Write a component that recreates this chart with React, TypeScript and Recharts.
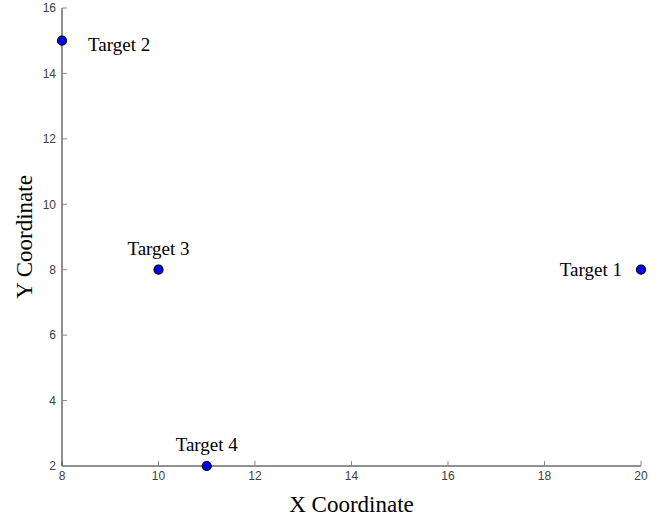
import { ScatterChart, Scatter, XAxis, YAxis, LabelList, Label } from 'recharts';

const targetNames = ['Target 1', 'Target 2', 'Target 3', 'Target 4'];
const targetX = [20, 8, 10, 11];
const targetY = [8, 15, 8, 2];
const xTicks = [8, 10, 12, 14, 16, 18, 20];
const yTicks = [2, 4, 6, 8, 10, 12, 14, 16];

// where each name sits relative to its dot
const labelSide: Record<string, string> = {
  'Target 1': 'left',
  'Target 2': 'right',
  'Target 3': 'top',
  'Target 4': 'top',
};

const data = targetNames.map((name, i) => ({ name, x: targetX[i], y: targetY[i] }));

const serif = '"Liberation Serif", "Times New Roman", serif';
const sans = '"Liberation Sans", Arial, sans-serif';

const Dot = (props: any) => {
  const { cx, cy } = props;
  return <circle cx={cx} cy={cy} r={4.5} fill="#0000ff" stroke="#000" strokeWidth={1.2} />;
};

const TargetLabel = (props: any) => {
  const { x, y, width, height, value } = props;
  const cx = x + width / 2;
  const cy = y + height / 2;
  const side = labelSide[value];
  let tx = cx;
  let ty = cy - 15;
  let anchor: 'start' | 'middle' | 'end' = 'middle';
  if (side === 'left') {
    tx = cx - 19;
    ty = cy + 6;
    anchor = 'end';
  } else if (side === 'right') {
    tx = cx + 26;
    ty = cy + 10;
    anchor = 'start';
  }
  return (
    <text x={tx} y={ty} textAnchor={anchor} fontFamily={serif} fontSize={19} fill="#000">
      {value}
    </text>
  );
};

const XTitle = (props: any) => {
  const { viewBox } = props;
  return (
    <text x={viewBox.x + viewBox.width / 2} y={512} textAnchor="middle" fontFamily={serif} fontSize={23} fill="#000">
      X Coordinate
    </text>
  );
};

const YTitle = (props: any) => {
  const { viewBox } = props;
  const cy = viewBox.y + viewBox.height / 2;
  return (
    <text
      x={32}
      y={cy}
      textAnchor="middle"
      transform={`rotate(-90, 32, ${cy})`}
      fontFamily={serif}
      fontSize={23}
      fill="#000"
    >
      Y Coordinate
    </text>
  );
};

export default function App() {
  return (
    <div style={{ position: 'absolute', left: 0, top: 0, background: '#fff' }}>
      <ScatterChart width={671} height={523} margin={{ top: 8, right: 30, bottom: 0, left: 0 }}>
        <XAxis
          type="number"
          dataKey="x"
          domain={[8, 20]}
          ticks={xTicks}
          height={57}
          tickSize={-5}
          tickMargin={10}
          axisLine={{ stroke: '#222', strokeWidth: 1 }}
          tickLine={{ stroke: '#888' }}
          tick={{ fill: '#404040', fontSize: 12, fontFamily: sans }}
        >
          <Label content={XTitle} />
        </XAxis>
        <YAxis
          type="number"
          dataKey="y"
          domain={[2, 16]}
          ticks={yTicks}
          width={62}
          tickSize={-5}
          tickMargin={11}
          axisLine={{ stroke: '#222', strokeWidth: 1 }}
          tickLine={{ stroke: '#888' }}
          tick={{ fill: '#404040', fontSize: 12, fontFamily: sans }}
        >
          <Label content={YTitle} />
        </YAxis>
        <Scatter data={data} shape={Dot} isAnimationActive={false}>
          <LabelList dataKey="name" content={TargetLabel} />
        </Scatter>
      </ScatterChart>
    </div>
  );
}
